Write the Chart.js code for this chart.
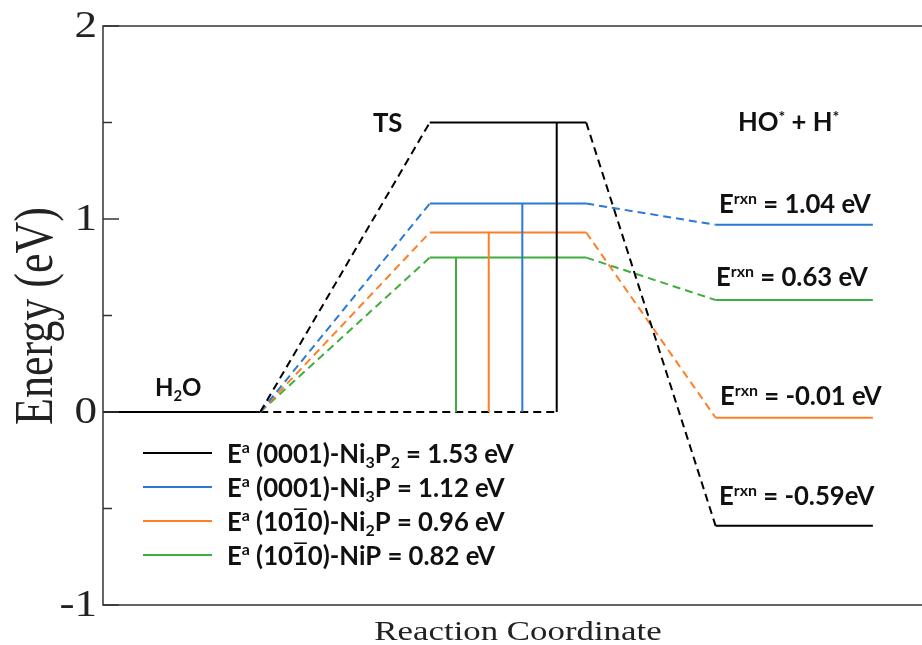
<!DOCTYPE html>
<html>
<head>
<meta charset="utf-8">
<script src="https://cdn.jsdelivr.net/npm/chart.js@4"></script>
<style>
  html, body { margin: 0; padding: 0; background: #fff; }
  #chart { display: block; }
</style>
</head>
<body>
<canvas id="chart" width="922" height="645"></canvas>
<script>
// reaction coordinate of the path corners: H2O end, TS start, TS end, product start, product end
const pathX = [19.2, 39.9, 59.0, 74.8, 94.0];
const h2oX = [0, 19.2];
// where each barrier height is marked
const barrierX = [55.4, 51.2, 47.1, 43.1];
// series order: Ni3P2 (0001), Ni3P (0001), Ni2P (10-10), NiP (10-10)
const tsEnergy = [1.50, 1.08, 0.93, 0.80];
const finalEnergy = [-0.59, 0.97, -0.03, 0.58];
const activation = ["1.53", "1.12", "0.96", "0.82"];
const reaction = ["-0.59", "1.04", "-0.01", "0.63"];
const yTicks = [-1, 0, 1, 2];
const colors = ["#000000", "#2a7ad5", "#ff7f27", "#3fae3f"];

// surface names as rich text pieces
const surfaceParts = [
  [[" (0001)-Ni"], ["3", "sub"], ["P"], ["2", "sub"]],
  [[" (0001)-Ni"], ["3", "sub"], ["P"]],
  [[" (10"], ["1", "ov"], ["0)-Ni"], ["2", "sub"], ["P"]],
  [[" (10"], ["1", "ov"], ["0)-NiP"]],
];

const DASH = [8, 5];
const SANS = "Lato";
const SERIF = "'Liberation Serif'";

const datasets = [];
colors.forEach((c, i) => {
  const ys = [0, tsEnergy[i], tsEnergy[i], finalEnergy[i], finalEnergy[i]];
  datasets.push({
    data: pathX.map((x, k) => ({ x, y: ys[k] })),
    borderColor: c,
    segment: { borderDash: (s) => (s.p0DataIndex % 2 === 0 ? DASH : undefined) },
  });
  datasets.push({
    data: [{ x: barrierX[i], y: 0 }, { x: barrierX[i], y: tsEnergy[i] }],
    borderColor: c,
  });
});
// H2O level and the dashed reference line under the barriers
datasets.push({ data: h2oX.map((x) => ({ x, y: 0 })), borderColor: "#000" });
datasets.push({ data: [{ x: h2oX[1], y: 0 }, { x: barrierX[0], y: 0 }], borderColor: "#000", borderDash: DASH });

// draw text with sub/superscripts and overlines
function rich(ctx, x, y, parts, size, sq) {
  ctx.save();
  ctx.translate(x, y);
  ctx.scale(sq, 1);
  ctx.textAlign = "left";
  ctx.textBaseline = "alphabetic";
  let cx = 0;
  parts.forEach(([t, kind]) => {
    const small = kind === "sup" || kind === "sub";
    const fs = small ? size * 0.62 : size;
    ctx.font = `bold ${fs}px ${SANS}`;
    let dy = 0;
    if (kind === "sup") dy = -size * 0.36;
    if (kind === "sub") dy = size * 0.2;
    ctx.fillText(t, cx, dy);
    const w = ctx.measureText(t).width;
    if (kind === "ov") {
      ctx.fillRect(cx + 1, -size * 0.86, w - 2, 1.6);
    }
    cx += w;
  });
  ctx.restore();
}

const decor = {
  id: "decor",
  afterDraw(chart) {
    const { ctx, chartArea: a, scales: { y } } = chart;
    ctx.save();
    ctx.strokeStyle = "#333";
    ctx.lineWidth = 1.5;
    ctx.beginPath();
    ctx.moveTo(a.right, a.top);
    ctx.lineTo(a.left, a.top);
    ctx.lineTo(a.left, a.bottom);
    ctx.lineTo(a.right, a.bottom);
    ctx.stroke();
    // inward ticks, minor every 0.5
    for (let v = -1; v <= 2; v += 0.5) {
      const py = y.getPixelForValue(v);
      const len = Number.isInteger(v) ? 16 : 9;
      ctx.beginPath();
      ctx.moveTo(a.left, py);
      ctx.lineTo(a.left + len, py);
      ctx.stroke();
    }
    // serif axis text, a bit stretched like the original
    ctx.fillStyle = "#222";
    yTicks.forEach((v) => {
      ctx.save();
      ctx.translate(a.left - 6, y.getPixelForValue(v));
      ctx.scale(1.22, 1);
      ctx.font = `37px ${SERIF}`;
      ctx.textAlign = "right";
      ctx.textBaseline = "middle";
      ctx.fillText(String(v), 0, 1);
      ctx.restore();
    });
    ctx.save();
    ctx.translate(38, 316);
    ctx.rotate(-Math.PI / 2);
    ctx.scale(1, 1.25);
    ctx.font = `44px ${SERIF}`;
    ctx.textAlign = "center";
    ctx.textBaseline = "middle";
    ctx.fillText("Energy (eV)", 0, 0);
    ctx.restore();
    ctx.save();
    ctx.translate(518, 640);
    ctx.scale(1.29, 1);
    ctx.font = `27px ${SERIF}`;
    ctx.textAlign = "center";
    ctx.textBaseline = "alphabetic";
    ctx.fillText("Reaction Coordinate", 0, 0);
    ctx.restore();

    // state labels
    const fs = 25.7, sq = 1;
    ctx.fillStyle = "#111";
    rich(ctx, 155, 396, [["H"], ["2", "sub"], ["O"]], 24, sq);
    rich(ctx, 373, 132, [["TS"]], fs, sq);
    rich(ctx, 738, 131, [["HO"], ["*", "sup"], [" + H"], ["*", "sup"]], fs, sq);
    const rxnPos = [[719, 505], [719, 213], [720, 405], [716, 286]];
    reaction.forEach((r, i) => {
      const gap = i === 0 ? "" : " ";
      rich(ctx, rxnPos[i][0], rxnPos[i][1], [["E"], ["rxn", "sup"], [` = ${r}${gap}eV`]], fs, sq);
    });

    // legend
    const rows = [453, 487, 521, 555];
    colors.forEach((c, i) => {
      ctx.strokeStyle = c;
      ctx.lineWidth = 2;
      ctx.beginPath();
      ctx.moveTo(143, rows[i]);
      ctx.lineTo(212, rows[i]);
      ctx.stroke();
      rich(ctx, 227, rows[i] + 9.5,
        [["E"], ["a", "sup"], ...surfaceParts[i], [` = ${activation[i]} eV`]], fs, sq);
    });
    ctx.restore();
  },
};

new Chart(document.getElementById("chart"), {
  type: "line",
  data: { datasets },
  options: {
    responsive: false,
    animation: false,
    devicePixelRatio: 1,
    layout: { padding: { left: 103, top: 26, right: 0, bottom: 40 } },
    elements: {
      line: { borderWidth: 2, tension: 0, fill: false, borderCapStyle: "butt" },
      point: { radius: 0, hoverRadius: 0 },
    },
    plugins: { legend: { display: false }, tooltip: { enabled: false } },
    scales: {
      x: { type: "linear", min: 0, max: 100, display: false },
      y: { min: -1, max: 2, display: false },
    },
  },
  plugins: [decor],
});
</script>
</body>
</html>
